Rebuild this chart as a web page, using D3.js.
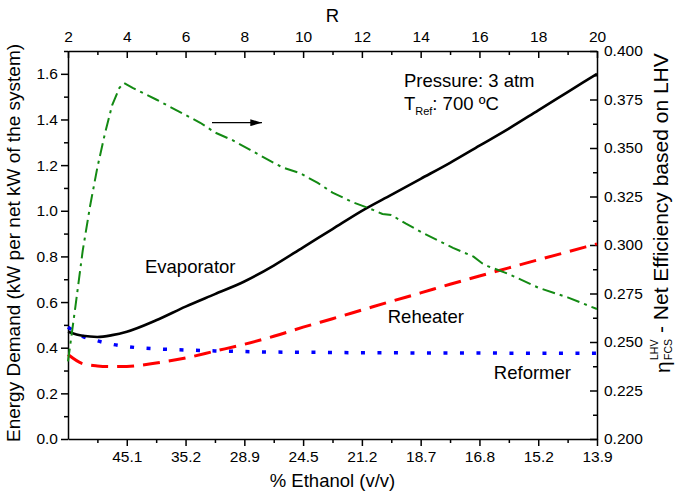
<!DOCTYPE html>
<html>
<head>
<meta charset="utf-8">
<script src="https://cdn.jsdelivr.net/npm/d3@7"></script>
<style>
  body { margin: 0; background: #fff; }
  svg { font-family: "Liberation Sans", Arial, sans-serif; }
  .axis path, .axis line { stroke: #000; stroke-width: 1.5; }
  .axis text { font-size: 15.5px; fill: #000; }
</style>
</head>
<body>
<div id="chart"></div>
<script>
// R values shared by the three energy demand curves
var rValues = [2, 2.5, 3, 3.5, 4, 5, 6, 7, 8, 9, 10, 11, 12, 13, 14, 15, 16, 17, 18, 19, 20];
var evaporator = [0.47, 0.452, 0.447, 0.455, 0.47, 0.52, 0.58, 0.635, 0.69, 0.76, 0.84, 0.92, 1.0, 1.07, 1.14, 1.21, 1.285, 1.36, 1.44, 1.52, 1.60];
var reheater = [0.37, 0.33, 0.32, 0.317, 0.318, 0.333, 0.355, 0.385, 0.415, 0.45, 0.49, 0.527, 0.565, 0.603, 0.64, 0.678, 0.714, 0.75, 0.785, 0.82, 0.855];
var reformer = [0.49, 0.45, 0.43, 0.415, 0.405, 0.395, 0.39, 0.386, 0.383, 0.381, 0.38, 0.379, 0.378, 0.378, 0.377, 0.377, 0.377, 0.376, 0.376, 0.376, 0.376];

// net efficiency (right axis)
var effR = [2.0, 2.25, 2.5, 2.75, 3.0, 3.25, 3.5, 3.75, 3.9, 4.2, 5.0, 6.0, 6.5, 7.0, 7.6, 8.2, 8.8, 9.3, 9.9, 10.5, 11.0, 11.7, 12.4, 12.7, 13.0, 13.5, 14.1, 15.1, 15.8, 16.1, 16.3, 17.0, 18.0, 19.0, 20.0];
var effVal = [0.240, 0.268, 0.297, 0.320, 0.340, 0.357, 0.372, 0.381, 0.3835, 0.381, 0.375, 0.367, 0.363, 0.358, 0.354, 0.349, 0.344, 0.340, 0.337, 0.332, 0.327, 0.322, 0.318, 0.316, 0.3155, 0.311, 0.306, 0.2985, 0.294, 0.2905, 0.289, 0.285, 0.278, 0.273, 0.267];

// tick labels
var rTicks = [2, 4, 6, 8, 10, 12, 14, 16, 18, 20];
var ethanolTicks = [4, 6, 8, 10, 12, 14, 16, 18, 20];
var ethanolLabels = ["45.1", "35.2", "28.9", "24.5", "21.2", "18.7", "16.8", "15.2", "13.9"];
var leftTicks = [0, 0.2, 0.4, 0.6, 0.8, 1.0, 1.2, 1.4, 1.6];
var rightTicks = [0.200, 0.225, 0.250, 0.275, 0.300, 0.325, 0.350, 0.375, 0.400];

var margin = { top: 51, right: 78, bottom: 55, left: 68 },
  W = 675, H = 494,
  width = W - margin.left - margin.right,
  height = H - margin.top - margin.bottom;

var svg = d3.select("#chart").append("svg").attr("width", W).attr("height", H);
var g = svg.append("g").attr("transform", "translate(" + margin.left + "," + margin.top + ")");

var x = d3.scaleLinear().domain([2, 20]).range([0, width]);
var yL = d3.scaleLinear().domain([0, 1.7]).range([height, 0]);
var yR = d3.scaleLinear().domain([0.2, 0.4]).range([height, 0]);

var minorR = d3.range(3, 20, 2);
var minorL = d3.range(0.1, 1.71, 0.2);
var minorRt = d3.range(0.2125, 0.4, 0.025);

// minor ticks
g.append("g").attr("class", "axis").attr("transform", "translate(0," + height + ")")
  .call(d3.axisBottom(x).tickValues(minorR).tickSize(4).tickFormat(""))
  .select(".domain").remove();
g.append("g").attr("class", "axis")
  .call(d3.axisTop(x).tickValues(minorR).tickSize(-4).tickFormat(""))
  .select(".domain").remove();
g.append("g").attr("class", "axis")
  .call(d3.axisLeft(yL).tickValues(minorL).tickSize(4).tickFormat(""))
  .select(".domain").remove();
g.append("g").attr("class", "axis").attr("transform", "translate(" + width + ",0)")
  .call(d3.axisRight(yR).tickValues(minorRt).tickSize(-4).tickFormat(""))
  .select(".domain").remove();

// major axes
g.append("g").attr("class", "axis").attr("transform", "translate(0," + height + ")")
  .call(d3.axisBottom(x).tickValues(ethanolTicks).tickSize(7).tickPadding(5).tickSizeOuter(0)
    .tickFormat(function(d) { return ethanolLabels[ethanolTicks.indexOf(d)]; }));
g.append("g").attr("class", "axis")
  .call(d3.axisTop(x).tickValues(rTicks).tickSize(-7).tickPadding(9).tickSizeOuter(0)
    .tickFormat(d3.format("d")));
g.append("g").attr("class", "axis")
  .call(d3.axisLeft(yL).tickValues(leftTicks).tickSize(7).tickPadding(3).tickSizeOuter(0)
    .tickFormat(d3.format(".1f")));
g.append("g").attr("class", "axis").attr("transform", "translate(" + width + ",0)")
  .call(d3.axisRight(yR).tickValues(rightTicks).tickSize(-7).tickPadding(7).tickSizeOuter(0)
    .tickFormat(d3.format(".3f")));

// curves
var energyLine = function(vals) {
  return d3.line()
    .x(function(d, i) { return x(rValues[i]); })
    .y(function(d) { return yL(d); })
    .curve(d3.curveMonotoneX)(vals);
};

g.append("path").attr("d", energyLine(reformer))
  .attr("fill", "none").attr("stroke", "#0000ff").attr("stroke-width", 3.5)
  .attr("stroke-dasharray", "4,12.5");
g.append("path").attr("d", energyLine(reheater))
  .attr("fill", "none").attr("stroke", "#ff0000").attr("stroke-width", 3)
  .attr("stroke-dasharray", "17,9");
g.append("path").attr("d", energyLine(evaporator))
  .attr("fill", "none").attr("stroke", "#000").attr("stroke-width", 2.6);

var effLine = d3.line()
  .x(function(d, i) { return x(effR[i]); })
  .y(function(d) { return yR(d); });
g.append("path").attr("d", effLine(effVal))
  .attr("fill", "none").attr("stroke", "#138a13").attr("stroke-width", 2)
  .attr("stroke-dasharray", "13,5,3,5");

// arrow pointing to the right axis
svg.append("defs").append("marker")
  .attr("id", "head").attr("viewBox", "0 0 10 6").attr("refX", 10).attr("refY", 3)
  .attr("markerWidth", 12).attr("markerHeight", 7).attr("markerUnits", "userSpaceOnUse")
  .attr("orient", "auto")
  .append("path").attr("d", "M0,0L10,3L0,6Z").attr("fill", "#000");
g.append("line")
  .attr("x1", x(6.9)).attr("x2", x(8.6))
  .attr("y1", yL(1.386)).attr("y2", yL(1.386))
  .attr("stroke", "#000").attr("stroke-width", 1.2)
  .attr("marker-end", "url(#head)");

// annotations
var labels = [
  { t: "Evaporator", r: 4.62, v: 0.727 },
  { t: "Reheater", r: 12.88, v: 0.508 },
  { t: "Reformer", r: 16.49, v: 0.263 },
  { t: "Pressure: 3 atm", r: 13.43, v: 1.542 }
];
g.selectAll(".lbl").data(labels).enter().append("text")
  .attr("class", "lbl")
  .attr("x", function(d) { return x(d.r); })
  .attr("y", function(d) { return yL(d.v); })
  .attr("font-size", "18.5px")
  .text(function(d) { return d.t; });

var tref = g.append("text").attr("x", x(13.43)).attr("y", yL(1.442)).attr("font-size", "18.5px");
tref.append("tspan").text("T");
tref.append("tspan").attr("font-size", "11px").attr("dy", 5).text("Ref");
tref.append("tspan").attr("dy", -5).text(": 700 \u00baC");

// axis titles
svg.append("text").attr("x", margin.left + width / 2).attr("y", 22)
  .attr("text-anchor", "middle").attr("font-size", "18.5px").text("R");
svg.append("text").attr("x", margin.left + width / 2).attr("y", 487)
  .attr("text-anchor", "middle").attr("font-size", "18.5px").text("% Ethanol (v/v)");
svg.append("text")
  .attr("transform", "translate(20," + (margin.top + height / 2 - 2) + ") rotate(-90)")
  .attr("text-anchor", "middle").attr("font-size", "19px")
  .text("Energy Demand (kW per net kW of the system)");

var rt = svg.append("g").attr("transform", "translate(668,373) rotate(-90)");
rt.append("text").attr("x", 0).attr("y", 2).attr("font-size", "21px").text("\u03b7");
rt.append("text").attr("x", 13).attr("y", 4).attr("font-size", "10.5px").text("FCS");
rt.append("text").attr("x", 13).attr("y", -10).attr("font-size", "10.5px").text("LHV");
rt.append("text").attr("x", 40).attr("y", 0).attr("font-size", "21px")
  .text("- Net Efficiency based on LHV");
</script>
</body>
</html>
